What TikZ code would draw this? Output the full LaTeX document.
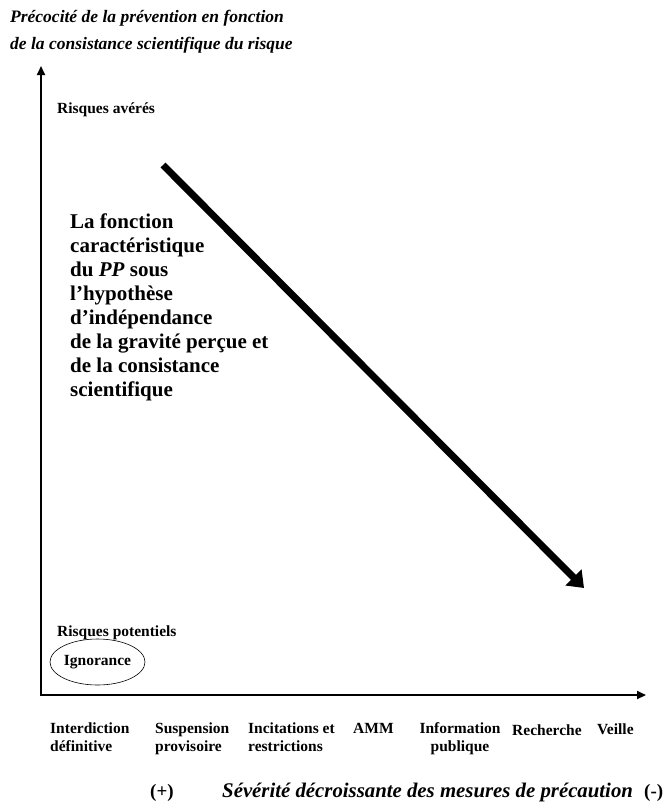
\documentclass[tikz,border=0pt]{standalone}
\usepackage{fontspec}
\setmainfont{Liberation Serif}
\usetikzlibrary{arrows.meta,shapes.geometric}
\begin{document}
\begin{tikzpicture}[x=1pt,y=-1pt,
  lab/.style={font=\fontsize{15.5}{17.5}\selectfont\bfseries, inner sep=0pt, align=left},
  ttl/.style={font=\fontsize{17.5}{27}\selectfont\bfseries\itshape, inner sep=0pt, align=left},
  sevs/.style={font=\fontsize{20.8}{24}\selectfont\bfseries\itshape, inner sep=0pt},
  sign/.style={font=\fontsize{19}{24}\selectfont\bfseries, inner sep=0pt},
  big/.style={font=\fontsize{21}{24}\selectfont\bfseries, inner sep=0pt, align=left},
  axis/.style={line width=2pt, -{Triangle[length=9pt,width=8pt]}},
  thick arrow/.style={line width=7pt, -{Triangle[length=15pt,width=22pt]}}]
\useasboundingbox (0,0) rectangle (668,803);
\node[ttl, anchor=west] (title) at (10,31.5) {Précocité de la prévention en fonction\\de la consistance scientifique du risque};
\coordinate (O) at (41,695);
\coordinate (ytip) at (41,66);
\coordinate (xtip) at (646,695);
\draw[axis] (O) -- (ytip);
\draw[axis] ([xshift=-1pt]O) -- (xtip);
\node[lab, anchor=base west] (aver) at (57,113) {Risques avérés};
\node[lab, anchor=base west] (pot) at (57,636) {Risques potentiels};
\node[draw, ellipse, line width=0.6pt, minimum width=95pt, minimum height=46pt, inner sep=0pt] (ign) at (97.5,662) {};
\node[lab] (igt) at (ign.center) {Ignorance};
\coordinate (ta) at (163,165);
\coordinate (tb) at (584,588);
\draw[thick arrow] (ta) -- (tb);
\node[big, anchor=west] (pp) at (70,307) {La fonction\\caractéristique\\du \textit{PP} sous\\l’hypothèse\\d’indépendance\\de la gravité perçue et\\de la consistance\\scientifique};
\node[lab, anchor=base west] (l1) at (50,751) {Interdiction\\définitive};
\node[lab, anchor=base west] (l2) at (155,751) {Suspension\\provisoire};
\node[lab, anchor=base west] (l3) at (248,751) {Incitations et\\restrictions};
\node[lab, anchor=base west] (l4) at (353,733) {AMM};
\node[lab, align=center, anchor=base] (l5) at (460,751) {Information\\publique};
\node[lab, anchor=base west] (l6) at (512,735) {Recherche};
\node[lab, anchor=base west] (l7) at (597,734) {Veille};
\node[sign, anchor=base west] (plus) at (150,797) {(+)};
\node[sevs, anchor=base west] (sev) at (222,797) {Sévérité décroissante des mesures de précaution};
\node[sign, anchor=base west] (minus) at (644,797) {(-)};
\end{tikzpicture}
\end{document}
